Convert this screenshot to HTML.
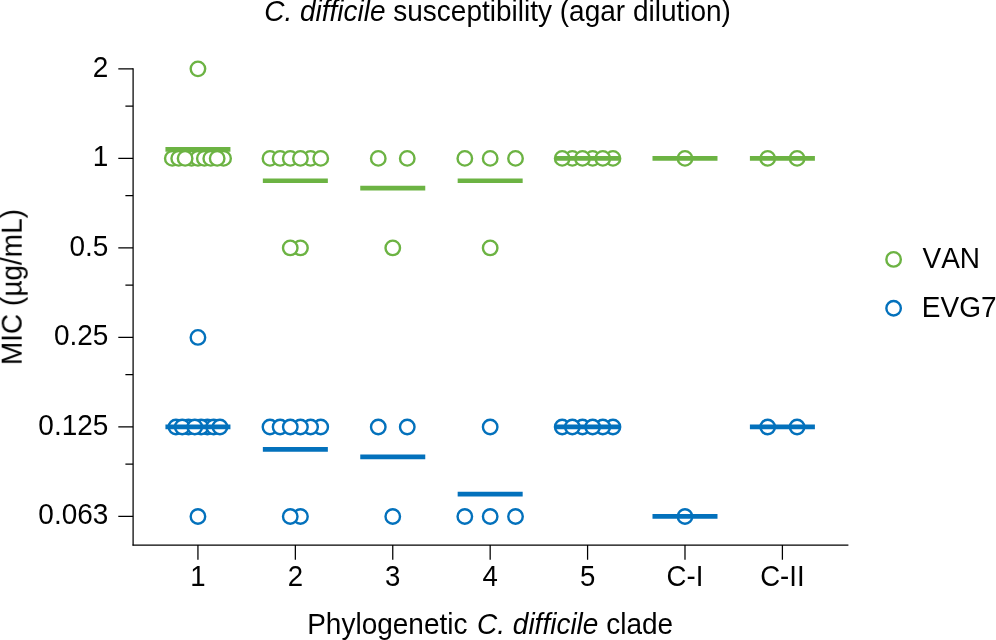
<!DOCTYPE html>
<html lang="en"><head><meta charset="utf-8"><title>C. difficile susceptibility (agar dilution)</title>
<style>html,body{margin:0;padding:0;background:#fff}body{width:996px;height:640px;overflow:hidden}svg{display:block}text{font-family:"Liberation Sans",Arial,Helvetica,sans-serif;font-size:28.0px;fill:#000;font-kerning:none}.ax{stroke:#000;stroke-width:1.25;fill:none}.g{stroke:#6cb343}.b{stroke:#0371bc}circle{fill:#fff;stroke-width:2.4}.m{stroke-width:4.7;fill:none}</style></head><body>
<svg width="996" height="640" viewBox="0 0 996 640">
<rect width="996" height="640" fill="#fff"/>
<path class="ax" d="M133.10 68.24V545.62"/><path class="ax" d="M132.48 545.00H848.40"/>
<path class="ax" d="M118.30 68.86H133.10M118.30 158.38H133.10M118.30 247.90H133.10M118.30 337.42H133.10M118.30 426.94H133.10M118.30 516.46H133.10M125.40 106.01H133.10M125.40 195.53H133.10M125.40 285.05H133.10M125.40 374.57H133.10M125.40 464.09H133.10M197.94 545.00V559.80M295.35 545.00V559.80M392.76 545.00V559.80M490.17 545.00V559.80M587.58 545.00V559.80M684.99 545.00V559.80M782.40 545.00V559.80"/>
<g opacity=".999">
<text transform="translate(108.4 76.86) scale(1 1.045)" text-anchor="end">2</text>
<text transform="translate(108.4 166.38) scale(1 1.045)" text-anchor="end">1</text>
<text transform="translate(108.4 255.90) scale(1 1.045)" text-anchor="end">0.5</text>
<text transform="translate(108.4 345.42) scale(1 1.045)" text-anchor="end">0.25</text>
<text transform="translate(108.4 434.94) scale(1 1.045)" text-anchor="end">0.125</text>
<text transform="translate(108.4 524.46) scale(1 1.045)" text-anchor="end">0.063</text>
<text transform="translate(197.94 585.9) scale(1 1.045)" text-anchor="middle" style="font-size:27.6px">1</text>
<text transform="translate(295.35 585.9) scale(1 1.045)" text-anchor="middle" style="font-size:27.6px">2</text>
<text transform="translate(392.76 585.9) scale(1 1.045)" text-anchor="middle" style="font-size:27.6px">3</text>
<text transform="translate(490.17 585.9) scale(1 1.045)" text-anchor="middle" style="font-size:27.6px">4</text>
<text transform="translate(587.58 585.9) scale(1 1.045)" text-anchor="middle" style="font-size:27.6px">5</text>
<text transform="translate(684.99 585.9) scale(1 1.045)" text-anchor="middle" style="font-size:27.6px">C-I</text>
<text transform="translate(782.40 585.9) scale(1 1.045)" text-anchor="middle" style="font-size:27.6px">C-II</text>
<text transform="translate(264.2 20.9) scale(1 1.035)"><tspan font-style="italic">C. difficile</tspan> susceptibility (agar dilution)</text>
<text transform="translate(307.2 633.9) scale(1 1.035)">Phylogenetic <tspan font-style="italic" dx="1.8">C. difficile</tspan> clade</text>
<text transform="translate(21.6 365.1) rotate(-90) scale(1 1.035)">MIC (µg/mL)</text>
<text transform="translate(922.5 267.6) scale(1 1.045)">VAN</text><text transform="translate(921.8 316.9) scale(1 1.045)">EVG7</text>
</g>
<g class="g"><circle cx="197.94" cy="68.86" r="7.25"/></g>
<g class="g"><circle cx="191.53" cy="158.38" r="7.25"/><circle cx="197.94" cy="158.38" r="7.25"/><circle cx="172.30" cy="158.38" r="7.25"/><circle cx="178.71" cy="158.38" r="7.25"/><circle cx="185.12" cy="158.38" r="7.25"/><circle cx="204.35" cy="158.38" r="7.25"/><circle cx="210.76" cy="158.38" r="7.25"/><circle cx="223.58" cy="158.38" r="7.25"/><circle cx="217.17" cy="158.38" r="7.25"/></g>
<g class="b"><circle cx="197.94" cy="337.42" r="7.25"/></g>
<g class="b"><circle cx="207.38" cy="426.94" r="7.25"/><circle cx="201.09" cy="426.94" r="7.25"/><circle cx="213.66" cy="426.94" r="7.25"/><circle cx="188.50" cy="426.94" r="7.25"/><circle cx="175.93" cy="426.94" r="7.25"/><circle cx="182.22" cy="426.94" r="7.25"/><circle cx="194.79" cy="426.94" r="7.25"/><circle cx="219.95" cy="426.94" r="7.25"/></g>
<g class="b"><circle cx="197.94" cy="516.46" r="7.25"/></g>
<g class="g"><circle cx="310.58" cy="158.38" r="7.25"/><circle cx="269.98" cy="158.38" r="7.25"/><circle cx="280.12" cy="158.38" r="7.25"/><circle cx="290.28" cy="158.38" r="7.25"/><circle cx="300.43" cy="158.38" r="7.25"/><circle cx="320.73" cy="158.38" r="7.25"/></g>
<g class="g"><circle cx="300.45" cy="247.90" r="7.25"/><circle cx="290.25" cy="247.90" r="7.25"/></g>
<g class="b"><circle cx="269.98" cy="426.94" r="7.25"/><circle cx="280.12" cy="426.94" r="7.25"/><circle cx="320.73" cy="426.94" r="7.25"/><circle cx="310.58" cy="426.94" r="7.25"/><circle cx="300.43" cy="426.94" r="7.25"/><circle cx="290.28" cy="426.94" r="7.25"/></g>
<g class="b"><circle cx="300.45" cy="516.46" r="7.25"/><circle cx="290.25" cy="516.46" r="7.25"/></g>
<g class="g"><circle cx="378.26" cy="158.38" r="7.25"/><circle cx="407.26" cy="158.38" r="7.25"/></g>
<g class="g"><circle cx="392.76" cy="247.90" r="7.25"/></g>
<g class="b"><circle cx="378.26" cy="426.94" r="7.25"/><circle cx="407.26" cy="426.94" r="7.25"/></g>
<g class="b"><circle cx="392.76" cy="516.46" r="7.25"/></g>
<g class="g"><circle cx="464.82" cy="158.38" r="7.25"/><circle cx="490.17" cy="158.38" r="7.25"/><circle cx="515.52" cy="158.38" r="7.25"/></g>
<g class="g"><circle cx="490.17" cy="247.90" r="7.25"/></g>
<g class="b"><circle cx="490.17" cy="426.94" r="7.25"/></g>
<g class="b"><circle cx="464.82" cy="516.46" r="7.25"/><circle cx="490.17" cy="516.46" r="7.25"/><circle cx="515.52" cy="516.46" r="7.25"/></g>
<g class="g"><circle cx="572.35" cy="158.38" r="7.25"/><circle cx="592.65" cy="158.38" r="7.25"/><circle cx="612.95" cy="158.38" r="7.25"/><circle cx="562.20" cy="158.38" r="7.25"/><circle cx="582.50" cy="158.38" r="7.25"/><circle cx="602.80" cy="158.38" r="7.25"/></g>
<g class="b"><circle cx="582.50" cy="426.94" r="7.25"/><circle cx="562.20" cy="426.94" r="7.25"/><circle cx="612.95" cy="426.94" r="7.25"/><circle cx="602.80" cy="426.94" r="7.25"/><circle cx="572.35" cy="426.94" r="7.25"/><circle cx="592.65" cy="426.94" r="7.25"/></g>
<g class="g"><circle cx="684.99" cy="158.38" r="7.25"/></g>
<g class="b"><circle cx="684.99" cy="516.46" r="7.25"/></g>
<g class="g"><circle cx="767.70" cy="158.38" r="7.25"/><circle cx="797.10" cy="158.38" r="7.25"/></g>
<g class="b"><circle cx="767.70" cy="426.94" r="7.25"/><circle cx="797.10" cy="426.94" r="7.25"/></g>
<path class="m g" d="M165.44 149.43H230.44M262.85 180.76H327.85M360.26 188.22H425.26M457.67 180.76H522.67M555.08 158.38H620.08M652.49 158.38H717.49M749.90 158.38H814.90"/><path class="m b" d="M165.44 426.94H230.44M262.85 449.32H327.85M360.26 456.78H425.26M457.67 494.08H522.67M555.08 426.94H620.08M652.49 516.46H717.49M749.90 426.94H814.90"/>
<g class="g"><circle cx="893.6" cy="259.4" r="7.25"/></g><g class="b"><circle cx="893.6" cy="308.2" r="7.25"/></g>
</svg></body></html>
